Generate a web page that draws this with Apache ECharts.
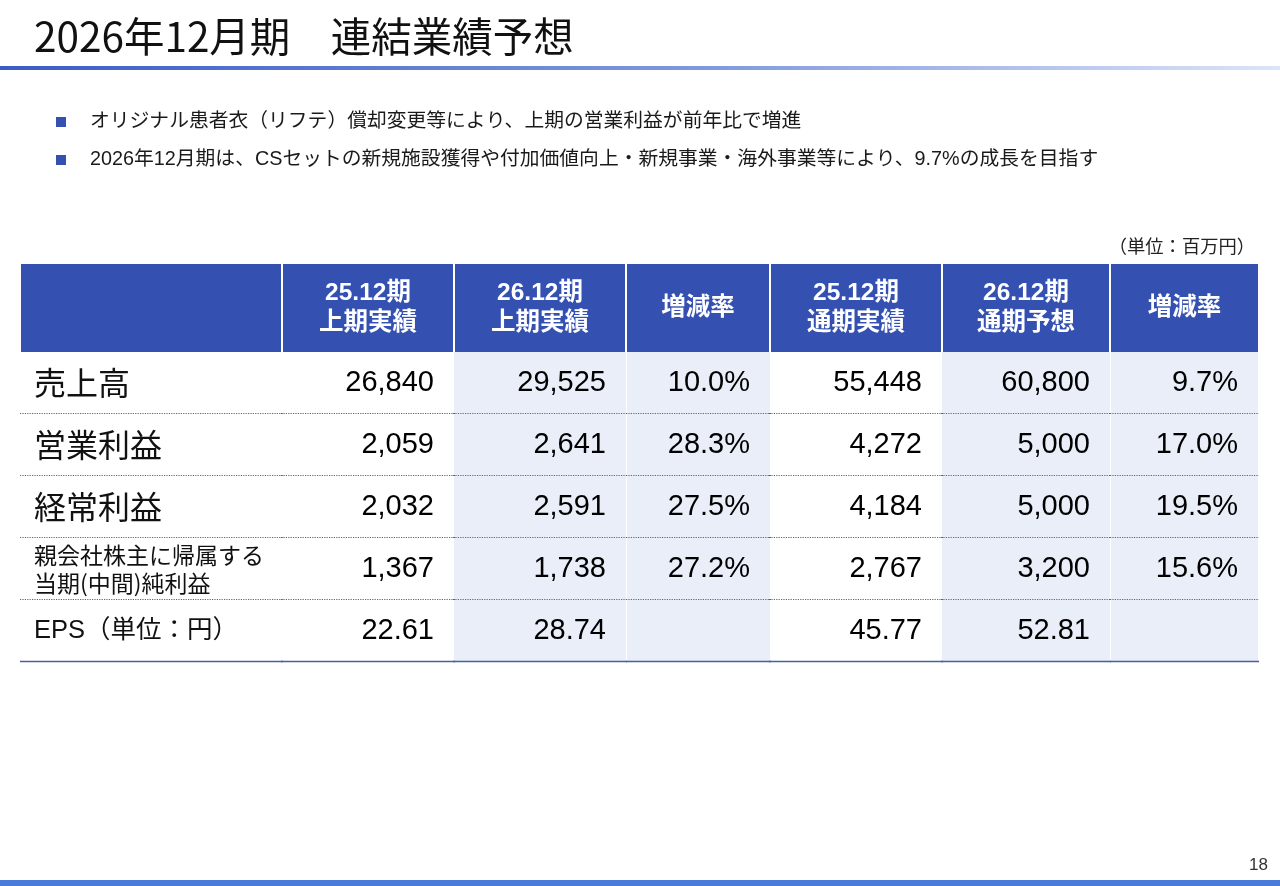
<!DOCTYPE html>
<html>
<head>
<meta charset="utf-8">
<script src="https://cdn.jsdelivr.net/npm/echarts@6/dist/echarts.min.js"></script>
<style>
html, body { margin: 0; padding: 0; background: #fff; }
#main { width: 1280px; height: 886px; }
</style>
</head>
<body>
<div id="main"></div>
<script>
(function () {

    // ---- data ----
    var pageTitle = '2026年12月期　連結業績予想';
    var bullets = [
        'オリジナル患者衣（リフテ）償却変更等により、上期の営業利益が前年比で増進',
        '2026年12月期は、CSセットの新規施設獲得や付加価値向上・新規事業・海外事業等により、9.7%の成長を目指す'
    ];
    var unitNote = '（単位：百万円）';
    var pageNo = '18';

    var rowLabels = ['売上高', '営業利益', '経常利益', '親会社株主に帰属する\n当期(中間)純利益', 'EPS（単位：円）'];
    var colHeaders = ['', '25.12期\n上期実績', '26.12期\n上期実績', '増減率', '25.12期\n通期実績', '26.12期\n通期予想', '増減率'];

    var h1Prev = [26840, 2059, 2032, 1367, 22.61];
    var h1Curr = [29525, 2641, 2591, 1738, 28.74];
    var h1Rate = [10.0, 28.3, 27.5, 27.2, null];
    var fyPrev = [55448, 4272, 4184, 2767, 45.77];
    var fyPlan = [60800, 5000, 5000, 3200, 52.81];
    var fyRate = [9.7, 17.0, 19.5, 15.6, null];

    var colValues = [null, h1Prev, h1Curr, h1Rate, fyPrev, fyPlan, fyRate];
    var isRate = [false, false, false, true, false, false, true];
    var EPS_ROW = 4;

    // ---- layout / style ----
    var colEdges = [21, 282, 454, 626, 770, 942, 1110, 1258];
    var shaded = [false, false, true, true, false, true, true];
    var headTop = 264, headH = 88, bodyTop = 352, bodyH = 310;
    var HEAD = '#3451B2';
    var SHADE = '#E9EEF8';
    var CJK = "'Noto Sans CJK JP', sans-serif";
    var NUM = "'Liberation Sans', 'Noto Sans CJK JP', sans-serif";

    function fmt(v, row, rate) {
        if (v == null) return '';
        if (rate) return v.toFixed(1) + '%';
        if (row === EPS_ROW) return v.toFixed(2);
        return v.toLocaleString('en-US');
    }

    var myChart = echarts.init(document.getElementById('main'));

    var grids = [], xAxes = [], yAxes = [], series = [];

    colHeaders.forEach(function (head, c) {
        // header cell
        var hl = colEdges[c] + (c > 0 ? 1 : 0);
        var hr = colEdges[c + 1] - (c < 6 ? 1 : 0);
        var gi = grids.length;
        grids.push({ left: hl, top: headTop, width: hr - hl, height: headH,
            show: true, backgroundColor: HEAD, borderWidth: 0 });
        xAxes.push({ type: 'value', gridIndex: gi, min: 0, max: 1, show: false });
        yAxes.push({ type: 'category', gridIndex: gi, data: ['head'], show: false });
        series.push({
            type: 'custom', xAxisIndex: gi, yAxisIndex: gi, silent: true,
            data: [[0, 0]],
            renderItem: function (params, api) {
                var a = api.coord([0, 0]), b = api.coord([1, 0]);
                return {
                    type: 'text', x: (a[0] + b[0]) / 2, y: a[1],
                    style: {
                        text: head, fill: '#fff', align: 'center', verticalAlign: 'middle',
                        fontSize: 24.5, fontWeight: 'bold', fontFamily: NUM, lineHeight: 30
                    }
                };
            }
        });

        // body column
        var bl = colEdges[c] + ((c === 3 || c === 6) ? 1 : 0);
        var bi = grids.length;
        grids.push({ left: bl, top: bodyTop, width: colEdges[c + 1] - bl, height: bodyH,
            show: true, backgroundColor: shaded[c] ? SHADE : '#fff', borderWidth: 0 });
        xAxes.push({ type: 'value', gridIndex: bi, min: 0, max: 1, show: false });
        yAxes.push({ type: 'category', gridIndex: bi, data: rowLabels, inverse: true, show: false });

        var vals = colValues[c];
        series.push({
            type: 'custom', xAxisIndex: bi, yAxisIndex: bi, silent: true,
            data: rowLabels.map(function (r, i) { return [0, i]; }),
            renderItem: function (params, api) {
                var i = params.dataIndex;
                var a = api.coord([0, i]), b = api.coord([1, i]);
                var h = api.size([0, 1])[1];
                var txt;
                if (c === 0) {
                    var fs = i < 3 ? 32 : (i === 3 ? 23 : 25.5);
                    txt = {
                        type: 'text', x: a[0] + 13, y: a[1],
                        style: {
                            text: rowLabels[i], fill: '#111', align: 'left', verticalAlign: 'middle',
                            fontSize: fs, fontFamily: i === EPS_ROW ? NUM : CJK, lineHeight: 28
                        }
                    };
                } else {
                    txt = {
                        type: 'text', x: b[0] - 20, y: a[1],
                        style: {
                            text: fmt(vals[i], i, isRate[c]), fill: '#000', align: 'right',
                            verticalAlign: 'middle', fontSize: 29, fontFamily: NUM
                        }
                    };
                }
                var last = i === rowLabels.length - 1;
                var ly = Math.round(a[1] + h / 2) - 0.5;
                var line = {
                    type: 'line',
                    shape: { x1: a[0] - 1, y1: ly, x2: b[0] + 1, y2: ly },
                    style: last
                        ? { stroke: '#4A5EA6', lineWidth: 1.6 }
                        : { stroke: '#4F62A6', lineWidth: 1, lineDash: [1.2, 1.2] }
                };
                return { type: 'group', children: [txt, line] };
            }
        });
    });

    var graphics = [
        { type: 'text', left: 34, top: 16,
          style: { text: pageTitle, fill: '#111', fontSize: 40.5, fontFamily: CJK } },
        { type: 'rect', left: 0, top: 66, shape: { width: 1280, height: 4 },
          style: { fill: new echarts.graphic.LinearGradient(0, 0, 1, 0, [
              { offset: 0, color: '#3A5CC6' },
              { offset: 0.55, color: '#7F98DE' },
              { offset: 1, color: '#DCE4F7' }
          ]) } },
        { type: 'text', right: 25, top: 237,
          style: { text: unitNote, fill: '#222', fontSize: 18.3, fontFamily: CJK } },
        { type: 'text', right: 12, top: 857,
          style: { text: pageNo, fill: '#333', fontSize: 17, fontFamily: NUM } },
        { type: 'rect', left: 0, top: 880, shape: { width: 1280, height: 6 },
          style: { fill: '#4A7BDB' } }
    ];
    bullets.forEach(function (b, i) {
        var cy = 122 + i * 38;
        graphics.push({ type: 'rect', left: 56, top: cy - 5, shape: { width: 10, height: 10 },
            style: { fill: '#3451B2' } });
        graphics.push({ type: 'text', left: 90, top: cy - 10,
            style: { text: b, fill: '#1a1a1a', fontSize: 19.8, fontFamily: NUM } });
    });

    var option = {
        animation: false,
        backgroundColor: '#fff',
        grid: grids,
        xAxis: xAxes,
        yAxis: yAxes,
        series: series,
        graphic: graphics
    };

    myChart.setOption(option);

}());
</script>
</body>
</html>
